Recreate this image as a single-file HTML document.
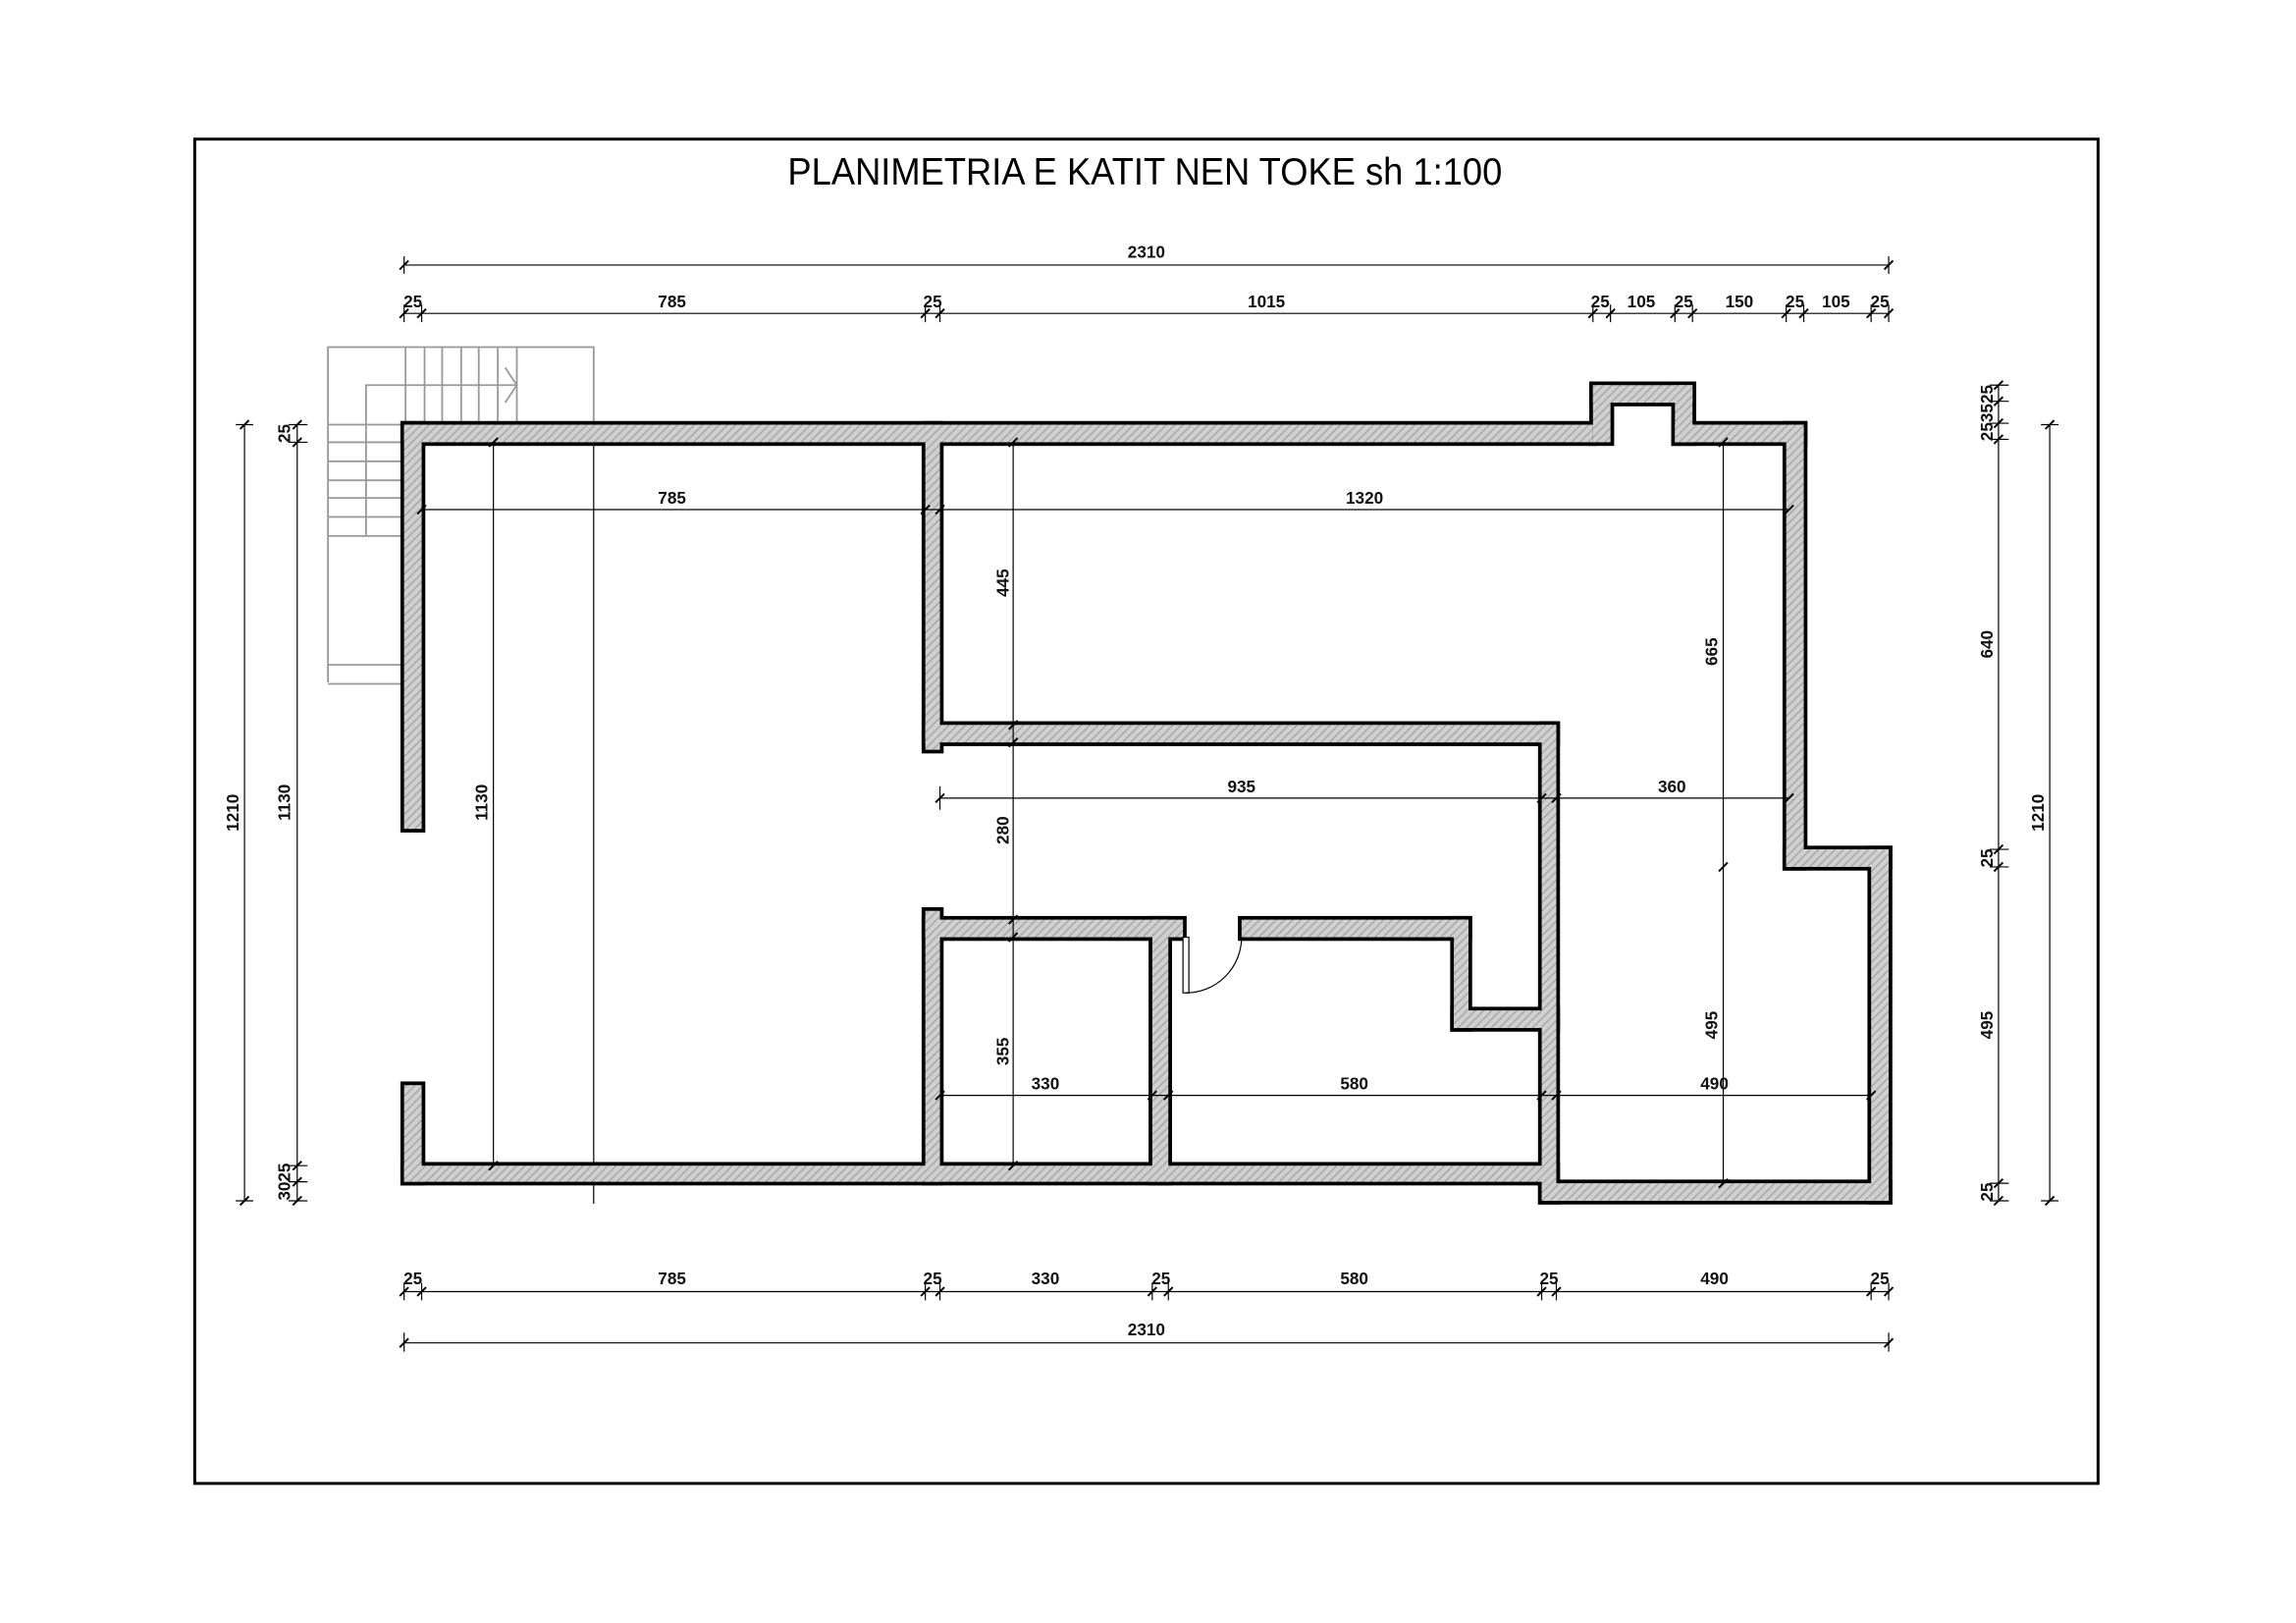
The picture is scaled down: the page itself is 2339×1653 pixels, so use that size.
<!DOCTYPE html>
<html><head><meta charset="utf-8"><style>
html,body{margin:0;padding:0;background:#fff}
svg{display:block}
text{font-family:"Liberation Sans",sans-serif}
.d{font-size:11.5px;font-weight:bold;fill:#111}
</style></head><body>
<svg width="2339" height="1653" viewBox="0 0 1568.2 1108.3" preserveAspectRatio="none" xmlns="http://www.w3.org/2000/svg">
<defs>
<pattern id="h" width="4" height="4" patternUnits="userSpaceOnUse" patternTransform="rotate(45)">
<rect width="4" height="4" fill="#d0d0d0"/><rect width="1" height="4" fill="#a8a8a8"/>
</pattern>
<path id="t" d="M-3,3 L3,-3" stroke="#000" stroke-width="1.3"/>
</defs>
<rect width="1568.2" height="1108.3" fill="#fff"/>
<rect x="133" y="95" width="1300" height="918" fill="none" stroke="#000" stroke-width="2"/>
<text x="538" y="126" font-size="26" textLength="488" lengthAdjust="spacingAndGlyphs">PLANIMETRIA E KATIT NEN TOKE sh 1:100</text>

<!-- stair -->
<g stroke="#999" stroke-width="1.2" fill="none">
<path d="M224,466 V237 H405.5 V290"/>
<path d="M277,237V290M290,237V290M302,237V290M315,237V290M327,237V290M340,237V290M353,237V290"/>
<path d="M250,366 V263 H353 M345,251 L353,263 L345,275"/>
<path d="M224,290H276M224,302H276M224,315H276M224,328H276M224,340H276M224,353H276M224,366H276M224,454H276M224,467H276"/>
</g>
<line x1="405.5" y1="290" x2="405.5" y2="822" stroke="#000" stroke-width="0.8"/>

<!-- walls: outline -->
<g fill="none" stroke="#000" stroke-width="5">
<rect x="276" y="290" width="812" height="12"/><rect x="1088" y="263" width="12" height="39"/><rect x="1088" y="263" width="68" height="12"/><rect x="1144" y="263" width="12" height="39"/><rect x="1144" y="290" width="88" height="12"/><rect x="1220" y="290" width="12" height="302"/><rect x="1220" y="580" width="70" height="12"/><rect x="1278" y="580" width="12" height="240"/><rect x="1053" y="808" width="237" height="12"/><rect x="1053" y="495" width="10" height="325"/><rect x="276" y="796" width="787" height="11"/><rect x="276" y="290" width="12" height="276"/><rect x="276" y="741" width="12" height="66"/><rect x="632" y="290" width="10" height="222"/><rect x="632" y="622" width="10" height="185"/><rect x="632" y="495" width="431" height="12"/><rect x="632" y="628" width="176" height="12"/><rect x="848" y="628" width="155" height="12"/><rect x="993" y="628" width="10" height="74"/><rect x="993" y="690" width="70" height="12"/><rect x="787" y="628" width="11" height="179"/>
</g>
<g fill="url(#h)">
<rect x="276" y="290" width="812" height="12"/><rect x="1088" y="263" width="12" height="39"/><rect x="1088" y="263" width="68" height="12"/><rect x="1144" y="263" width="12" height="39"/><rect x="1144" y="290" width="88" height="12"/><rect x="1220" y="290" width="12" height="302"/><rect x="1220" y="580" width="70" height="12"/><rect x="1278" y="580" width="12" height="240"/><rect x="1053" y="808" width="237" height="12"/><rect x="1053" y="495" width="10" height="325"/><rect x="276" y="796" width="787" height="11"/><rect x="276" y="290" width="12" height="276"/><rect x="276" y="741" width="12" height="66"/><rect x="632" y="290" width="10" height="222"/><rect x="632" y="622" width="10" height="185"/><rect x="632" y="495" width="431" height="12"/><rect x="632" y="628" width="176" height="12"/><rect x="848" y="628" width="155" height="12"/><rect x="993" y="628" width="10" height="74"/><rect x="993" y="690" width="70" height="12"/><rect x="787" y="628" width="11" height="179"/>
</g>
<!-- door -->
<rect x="808" y="640" width="4" height="38" fill="#fff" stroke="#000" stroke-width="0.8"/>
<path d="M810,678 A38,38 0 0 0 848,640" fill="none" stroke="#000" stroke-width="0.8"/>

<!-- dimension lines -->
<g stroke="#000" stroke-width="0.8" fill="none">
<path d="M276,181H1290 M276,175V187 M1290,175V187"/>
<path d="M276,214H1290 M276,208V220M288,208V220M632,208V220M642,208V220M1088,208V220M1100,208V220M1144,208V220M1156,208V220M1220,208V220M1232,208V220M1278,208V220M1290,208V220"/>
<path d="M276,882H1290 M276,876V888M288,876V888M632,876V888M642,876V888M787,876V888M798,876V888M1053,876V888M1063,876V888M1278,876V888M1290,876V888"/>
<path d="M276,917H1290 M276,910V923 M1290,910V923"/>
<path d="M167,290V820 M161,290H173 M161,820H173"/>
<path d="M203,290V820 M197,290H210M197,302H210M197,796H210M197,807H210M197,820H210"/>
<path d="M1365,263V820 M1359,263H1372M1359,274H1372M1359,289H1372M1359,300H1372M1359,580H1372M1359,592H1372M1359,808H1372M1359,820H1372"/>
<path d="M1400,290V820 M1394,290H1406 M1394,820H1406"/>
<path d="M288,348H1222"/>
<path d="M337,302V796"/>
<path d="M692,302V796"/>
<path d="M642,545H1222 M642,537V553"/>
<path d="M1177,302V808"/>
<path d="M642,748H1278"/>
</g>
<g>
<use href="#t" x="276" y="181"/><use href="#t" x="1290" y="181"/>
<use href="#t" x="276" y="214"/><use href="#t" x="288" y="214"/><use href="#t" x="632" y="214"/><use href="#t" x="642" y="214"/><use href="#t" x="1088" y="214"/><use href="#t" x="1100" y="214"/><use href="#t" x="1144" y="214"/><use href="#t" x="1156" y="214"/><use href="#t" x="1220" y="214"/><use href="#t" x="1232" y="214"/><use href="#t" x="1278" y="214"/><use href="#t" x="1290" y="214"/>
<use href="#t" x="276" y="882"/><use href="#t" x="288" y="882"/><use href="#t" x="632" y="882"/><use href="#t" x="642" y="882"/><use href="#t" x="787" y="882"/><use href="#t" x="798" y="882"/><use href="#t" x="1053" y="882"/><use href="#t" x="1063" y="882"/><use href="#t" x="1278" y="882"/><use href="#t" x="1290" y="882"/>
<use href="#t" x="276" y="917"/><use href="#t" x="1290" y="917"/>
<use href="#t" x="167" y="290"/><use href="#t" x="167" y="820"/>
<use href="#t" x="203" y="290"/><use href="#t" x="203" y="302"/><use href="#t" x="203" y="796"/><use href="#t" x="203" y="807"/><use href="#t" x="203" y="820"/>
<use href="#t" x="1365" y="263"/><use href="#t" x="1365" y="274"/><use href="#t" x="1365" y="289"/><use href="#t" x="1365" y="300"/><use href="#t" x="1365" y="580"/><use href="#t" x="1365" y="592"/><use href="#t" x="1365" y="808"/><use href="#t" x="1365" y="820"/>
<use href="#t" x="1400" y="290"/><use href="#t" x="1400" y="820"/>
<use href="#t" x="288" y="348"/><use href="#t" x="632" y="348"/><use href="#t" x="642" y="348"/><use href="#t" x="1222" y="348"/>
<use href="#t" x="337" y="302"/><use href="#t" x="337" y="796"/>
<use href="#t" x="692" y="302"/><use href="#t" x="692" y="495"/><use href="#t" x="692" y="507"/><use href="#t" x="692" y="628"/><use href="#t" x="692" y="640"/><use href="#t" x="692" y="796"/>
<use href="#t" x="642" y="545"/><use href="#t" x="1053" y="545"/><use href="#t" x="1063" y="545"/><use href="#t" x="1222" y="545"/>
<use href="#t" x="1177" y="302"/><use href="#t" x="1177" y="592"/><use href="#t" x="1177" y="808"/>
<use href="#t" x="642" y="748"/><use href="#t" x="787" y="748"/><use href="#t" x="798" y="748"/><use href="#t" x="1053" y="748"/><use href="#t" x="1063" y="748"/><use href="#t" x="1278" y="748"/>
</g>

<!-- labels -->
<g class="d" text-anchor="middle">
<text x="783" y="176">2310</text>
<text x="282" y="210">25</text><text x="459" y="210">785</text><text x="637" y="210">25</text><text x="865" y="210">1015</text><text x="1093" y="210">25</text><text x="1121" y="210">105</text><text x="1150" y="210">25</text><text x="1188" y="210">150</text><text x="1226" y="210">25</text><text x="1254" y="210">105</text><text x="1284" y="210">25</text>
<text x="282" y="877">25</text><text x="459" y="877">785</text><text x="637" y="877">25</text><text x="714" y="877">330</text><text x="793" y="877">25</text><text x="925" y="877">580</text><text x="1058" y="877">25</text><text x="1171" y="877">490</text><text x="1284" y="877">25</text>
<text x="783" y="912">2310</text>
<text x="459" y="344">785</text><text x="932" y="344">1320</text>
<text x="848" y="541">935</text><text x="1142" y="541">360</text>
<text x="714" y="744">330</text><text x="925" y="744">580</text><text x="1171" y="744">490</text>
<text transform="translate(163,555) rotate(-90)">1210</text>
<text transform="translate(198,296) rotate(-90)">25</text>
<text transform="translate(198,548) rotate(-90)">1130</text>
<text transform="translate(198,807) rotate(-90)">3025</text>
<text transform="translate(333,548) rotate(-90)">1130</text>
<text transform="translate(689,398) rotate(-90)">445</text>
<text transform="translate(689,567) rotate(-90)">280</text>
<text transform="translate(689,718) rotate(-90)">355</text>
<text transform="translate(1173,445) rotate(-90)">665</text>
<text transform="translate(1173,700) rotate(-90)">495</text>
<text transform="translate(1361,282) rotate(-90)">253525</text>
<text transform="translate(1361,440) rotate(-90)">640</text>
<text transform="translate(1361,586) rotate(-90)">25</text>
<text transform="translate(1361,700) rotate(-90)">495</text>
<text transform="translate(1361,814) rotate(-90)">25</text>
<text transform="translate(1396,555) rotate(-90)">1210</text>
</g>
</svg>
</body></html>
